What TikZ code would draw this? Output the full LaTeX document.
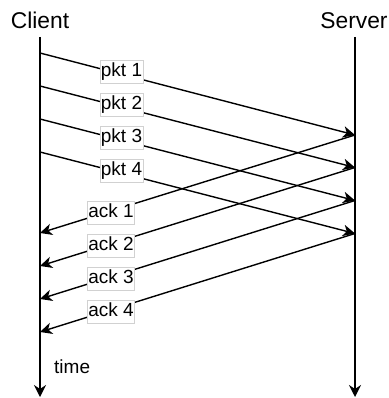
\documentclass[tikz,border=0pt]{standalone}
\usepackage{fontspec}
\setmainfont{Liberation Sans}
\usetikzlibrary{arrows.meta}

\tikzset{
  life/.style={line width=1.5pt, -{Stealth[length=12pt, width=12pt, inset=4pt]}},
  msg/.style={line width=1.4pt, -{Stealth[length=12pt, width=11.5pt, inset=3.5pt]}},
  lbl/.style={draw=black!18, line width=0.6pt, fill=white, inner xsep=1pt, inner ysep=2.6pt,
    font=\fontsize{19pt}{22pt}\selectfont, text height=13.6pt, text depth=4pt},
  title/.style={font=\fontsize{22.8pt}{26pt}\selectfont, inner sep=0pt, anchor=base}
}

\begin{document}
\begin{tikzpicture}[x=1pt, y=-1pt]
  \useasboundingbox (0,0) rectangle (388,398);

  % lifelines
  \coordinate (ctop) at (40,37);
  \coordinate (cbot) at (40,397);
  \coordinate (stop) at (355,37);
  \coordinate (sbot) at (355,397);
  \draw[life] (ctop) -- (cbot);
  \draw[life] (stop) -- (sbot);

  \node[title] (client) at (40,29) {Client};
  \node[title] (server) at (354,29) {Server};
  \node[font=\fontsize{19pt}{22pt}\selectfont, inner sep=0pt, anchor=base west] (time) at (54,373) {time};

  % send points on the client, arrival points on the server, ack arrivals
  \foreach \k/\cy/\sy/\ay in {1/53/135/233, 2/86/167.5/266, 3/119/200.5/299, 4/152/233.5/332} {
    \coordinate (c\k) at (40,\cy);
    \coordinate (s\k) at (355,\sy);
    \coordinate (a\k) at (40,\ay);
  }

  % packets and acknowledgements
  \foreach \k in {1,...,4} {
    \draw[msg] (c\k) -- (s\k);
    \draw[msg] (s\k) -- (a\k);
  }

  % labels on top of the lines
  \foreach \k/\py/\ay in {1/71.5/213, 2/104.5/246, 3/137.5/279, 4/170.5/312} {
    \node[lbl] (p\k) at (121.5,\py) {pkt \k};
    \node[lbl] (l\k) at (111,\ay) {ack \k};
  }
\end{tikzpicture}
\end{document}
